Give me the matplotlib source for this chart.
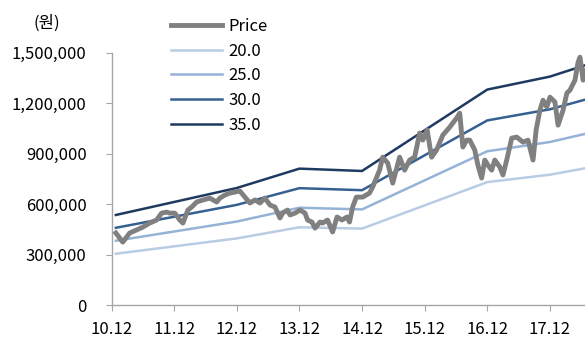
import matplotlib
matplotlib.use("Agg")
import matplotlib.pyplot as plt

plt.rcParams['font.family'] = ['Noto Sans CJK KR', 'DejaVu Sans']

# x positions: years after Dec-2010 (0 = 10.12)
tick_labels = ["10.12", "11.12", "12.12", "13.12", "14.12", "15.12", "16.12", "17.12"]

# PER band lines (won) at knot dates
band_t = [0.07, 2.0, 3.0, 4.0, 6.0, 7.0, 7.56]
band_20 = [307000, 398000, 464000, 456000, 732000, 776000, 814000]
band_25 = [384000, 498000, 580000, 570000, 915000, 970000, 1018000]
band_30 = [461000, 597000, 696000, 684000, 1098000, 1164000, 1221000]
band_35 = [537000, 697000, 812000, 798000, 1281000, 1358000, 1425000]

# Share price (thousand won)
price_t = [0.07, 0.18, 0.29, 0.40, 0.50, 0.61, 0.72, 0.80, 0.88, 0.93,
           1.01, 1.09, 1.14, 1.22, 1.28, 1.36, 1.46, 1.57, 1.68, 1.73,
           1.81, 1.89, 1.97, 2.05, 2.13, 2.21, 2.29, 2.37, 2.45, 2.53,
           2.61, 2.69, 2.73, 2.81, 2.85, 2.93, 3.01, 3.09, 3.13, 3.20,
           3.25, 3.33, 3.37, 3.45, 3.53, 3.60, 3.68, 3.76, 3.80, 3.85,
           3.91, 4.01, 4.12, 4.17, 4.28, 4.33, 4.41, 4.49, 4.60, 4.68,
           4.76, 4.84, 4.92, 4.97, 5.04, 5.11, 5.19, 5.29, 5.40, 5.51,
           5.56, 5.61, 5.67, 5.72, 5.80, 5.85, 5.91, 5.96, 6.01, 6.07,
           6.12, 6.20, 6.25, 6.31, 6.39, 6.47, 6.57, 6.65, 6.73, 6.78,
           6.84, 6.89, 6.95, 7.00, 7.08, 7.13, 7.21, 7.27, 7.32, 7.40,
           7.45, 7.48, 7.53, 7.56]
price_k = [430, 376, 430, 448, 465, 489, 507, 548, 554, 548,
           548, 507, 489, 566, 584, 614, 626, 637, 614, 637,
           655, 667, 673, 679, 643, 608, 626, 608, 637, 596,
           584, 519, 548, 566, 537, 548, 566, 548, 507, 495,
           459, 495, 489, 507, 436, 525, 507, 525, 495, 584,
           643, 643, 667, 703, 803, 880, 845, 726, 880, 803,
           863, 880, 1023, 981, 1041, 880, 922, 1011, 1058, 1112,
           1141, 940, 981, 981, 922, 833, 756, 863, 833, 803,
           863, 821, 774, 863, 993, 999, 969, 981, 863, 1041,
           1159, 1218, 1177, 1236, 1207, 1070, 1159, 1260, 1278, 1337,
           1444, 1473, 1337, 1396]

yticks = [0, 300000, 600000, 900000, 1200000, 1500000]

fig = plt.figure(figsize=(5.85, 3.38), dpi=100)
ax = fig.add_axes([0.1906, 0.0962, 0.8094, 0.748])

ax.plot(price_t, [v * 1000 for v in price_k], color="#808080", lw=3.5,
        label="Price", solid_joinstyle="round", zorder=3)
ax.plot(band_t, band_20, color="#B8CCE4", lw=1.8, label="20.0", zorder=2)
ax.plot(band_t, band_25, color="#95B3D7", lw=1.8, label="25.0", zorder=2)
ax.plot(band_t, band_30, color="#366092", lw=1.8, label="30.0", zorder=2)
ax.plot(band_t, band_35, color="#1F3A60", lw=1.8, label="35.0", zorder=2)

ax.set_xlim(0, 7.56)
ax.set_ylim(0, 1500000)
ax.set_yticks(yticks)
ax.set_yticklabels([f"{v:,}" for v in yticks])
ax.set_xticks(range(len(tick_labels)))
ax.set_xticklabels(tick_labels)

for s in ["top", "right"]:
    ax.spines[s].set_visible(False)
for s in ["left", "bottom"]:
    ax.spines[s].set_color("#A6A6A6")
    ax.spines[s].set_linewidth(1.0)
ax.tick_params(axis="both", direction="out", color="#A6A6A6", length=4,
               labelsize=12, labelcolor="#000000")
ax.tick_params(axis="y", pad=14)
ax.tick_params(axis="x", pad=7)

fig.text(0.08, 0.93, "(원)", ha="center", va="center", fontsize=12)

leg = fig.legend(loc="upper left", bbox_to_anchor=(0.2915, 0.947), frameon=False,
                 fontsize=12, handlelength=3.1, handletextpad=0.35,
                 labelspacing=0.46, borderaxespad=0, borderpad=0)

fig.savefig("out.png", dpi=100)
